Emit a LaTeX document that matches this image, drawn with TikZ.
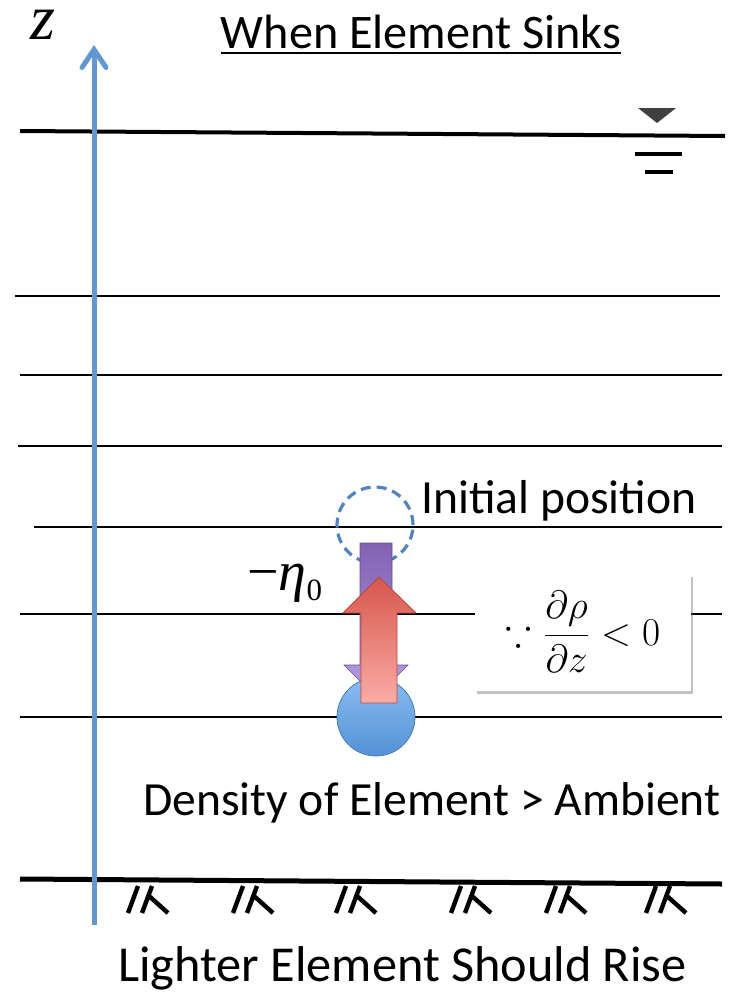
\documentclass[tikz,border=0pt]{standalone}
\usepackage{amsmath,amssymb}
\usepackage{fontspec}
\setmainfont{Carlito}
\newfontfamily\tms{Liberation Serif}
\definecolor{stblue}{RGB}{98,152,210}
\definecolor{stdash}{RGB}{82,132,192}
\definecolor{stpurple}{RGB}{128,98,180}
\definecolor{stlilac}{RGB}{182,160,222}
\definecolor{stred}{RGB}{214,86,76}
\definecolor{stpink}{RGB}{250,172,166}
\definecolor{stball}{RGB}{138,188,240}
\definecolor{stballdk}{RGB}{84,146,214}
\usetikzlibrary{arrows.meta,shadows}

\begin{document}
\begin{tikzpicture}[x=1pt,y=-1pt,
  layer/.style={line width=2.6pt,black},
  bed/.style={line width=5pt,black},
  hatch/.style={line width=4.4pt},
  lbl/.style={font=\fontsize{47.6}{56}\selectfont,inner sep=0pt,anchor=base west},
  axis/.style={line width=5pt,stblue,-{Straight Barb[length=18pt,width=24pt,line cap=round]}}]
  \useasboundingbox (0,0) rectangle (732,993);
  % Stratified layers
  \draw[layer] (15,296) -- (720,296);
  \draw[layer] (20,375) -- (722,375);
  \draw[layer] (18,446) -- (722,446);
  \draw[layer] (34,527) -- (722,527);
  \draw[layer] (20,614) -- (722,614);
  \draw[layer] (20,717) -- (722,717);
  % Free surface and bed
  \draw[bed,line width=4pt] (20,131) -- (725,136);
  \fill[black!75] (638,108) -- (676,108) -- (657,123) -- cycle;
  \draw[line width=4.5pt] (635,154) -- (682,154);
  \draw[line width=4.5pt] (645,172) -- (673,172);
  \draw[bed] (20,879) -- (722,884);
  \foreach \x in {128,233,336,451,546,646} {
    \draw[hatch] (\x,913) -- ++(10,-27) (\x+14,913) -- ++(10,-27) (\x+21,896) -- ++(19,17);
  }
  % Title
  \node[lbl,anchor=base,font=\fontsize{48.2}{56}\selectfont] (title) at (421,48) {When Element Sinks};
  \draw[line width=2.8pt] ([yshift=-5pt]title.base west) -- ([yshift=-5pt]title.base east);
  \node[anchor=base west,inner sep=0pt,text height=30pt,text depth=0pt,font=\tms\itshape\fontsize{64}{70}\selectfont] (zlab) at (30,39) {z};
  % Element
  \node[circle,draw=stdash,dash pattern=on 10pt off 6pt,line width=3.2pt,minimum size=76pt,inner sep=0pt] (init) at (375,525) {};
  \shade[top color=stpurple,bottom color=stlilac,draw=stpurple!80!black,line width=0.6pt]
    (360,543) -- (392,543) -- (392,665) -- (408,665) -- (376,697) -- (344,665) -- (360,665) -- cycle;
  \node[circle,minimum size=78pt,inner sep=0pt,top color=stball,bottom color=stballdk,draw=stballdk!85!black,line width=0.8pt] (elem) at (376,717) {};
  \shade[top color=stred,bottom color=stpink,draw=stred!85!black,line width=0.8pt]
    (379,577) -- (416,613) -- (397,613) -- (397,703) -- (361,703) -- (361,613) -- (343,613) -- cycle;
  \node[lbl] (initlbl) at (421,513) {Initial position};
  \node[anchor=base west,inner sep=0pt,font=\tms\fontsize{56}{64}\selectfont] (eta) at (247,590)
    {−\textit{η}\raisebox{-10pt}{\fontsize{31}{36}\selectfont 0}};
  \node[fill=white,drop shadow={shadow xshift=2pt,shadow yshift=-3pt,opacity=0.4,fill=black!60},
    minimum width=216pt,minimum height=117pt,inner sep=0pt] (grad) at (583,632)
    {\fontsize{20.74}{25}\selectfont\scalebox{1.9}{$\because\dfrac{\partial\rho}{\partial z}<0$}};
  \node[lbl] (dens) at (143,815) {Density of Element > Ambient};
  \node[lbl,font=\fontsize{50.3}{58}\selectfont] (rise) at (118,981) {Lighter Element Should Rise};
  % Vertical axis
  \coordinate (zbot) at (94,925);
  \coordinate (ztop) at (94,45);
  \draw[axis] (zbot) -- (ztop);
\end{tikzpicture}
\end{document}
